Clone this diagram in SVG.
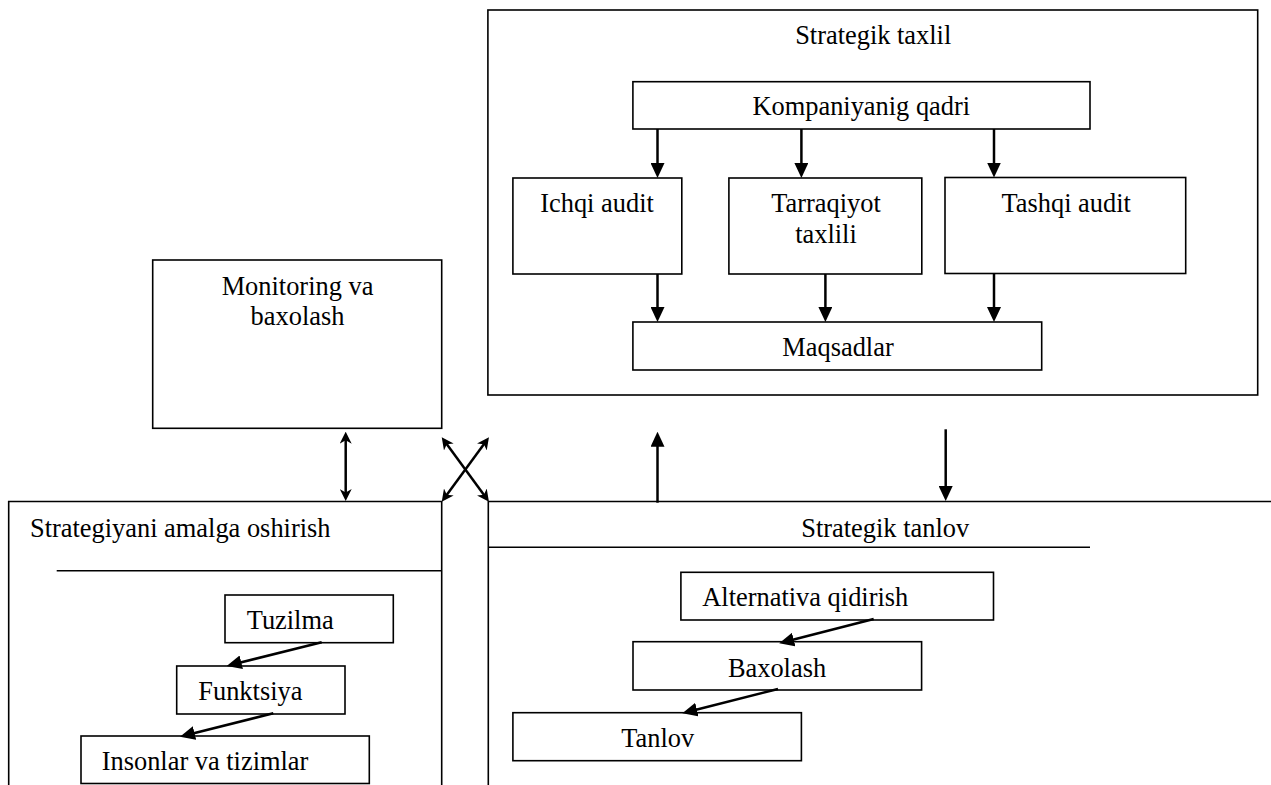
<svg xmlns="http://www.w3.org/2000/svg" width="1271" height="785" viewBox="0 0 1271 785">
<style>
.box{fill:#fff;stroke:#000;stroke-width:1.6}
.ln{fill:none;stroke:#000;stroke-width:1.6}
.t{font-family:"Liberation Serif","Times New Roman",serif;font-size:26.4px;fill:#000}
.m{text-anchor:middle}
.ar{fill:none;stroke:#000;stroke-width:2.5}
</style>
<defs>
<marker id="tri" viewBox="0 0 15 14" refX="9" refY="7" markerWidth="15" markerHeight="14" markerUnits="userSpaceOnUse" orient="auto">
<path d="M0,0 L15,7 L0,14 z" fill="#000"/>
</marker>
<marker id="stl" viewBox="0 0 12 12" refX="8" refY="6" markerWidth="12" markerHeight="12" markerUnits="userSpaceOnUse" orient="auto-start-reverse">
<path d="M0,0 L12,6 L0,12 L3.5,6 z" fill="#000"/>
</marker>
</defs>
<rect width="1271" height="785" fill="#fff"/>

<g id="strategik-taxlil">
<rect class="box" x="487.9" y="10" width="769.8" height="385"/>
<text class="t m" x="873.2" y="44.3">Strategik taxlil</text>
</g>
<g id="kompaniyanig-qadri">
<rect class="box" x="632.9" y="81.7" width="457.1" height="47.3"/>
<text class="t m" x="861.3" y="115">Kompaniyanig qadri</text>
</g>
<g id="ichqi-audit">
<rect class="box" x="512.9" y="178" width="168.9" height="96"/>
<text class="t m" x="597" y="212">Ichqi audit</text>
</g>
<g id="tarraqiyot-taxlili">
<rect class="box" x="728.9" y="178" width="192.9" height="96"/>
<text class="t m" x="826" y="212">Tarraqiyot</text>
<text class="t m" x="826" y="243.3">taxlili</text>
</g>
<g id="tashqi-audit">
<rect class="box" x="945" y="177.5" width="240.7" height="96"/>
<text class="t m" x="1066.2" y="212">Tashqi audit</text>
</g>
<g id="maqsadlar">
<rect class="box" x="632.9" y="322" width="408.8" height="48"/>
<text class="t m" x="838" y="356">Maqsadlar</text>
</g>

<g id="monitoring">
<rect class="box" x="152.7" y="260" width="289" height="168.3"/>
<text class="t m" x="297.5" y="295">Monitoring va</text>
<text class="t m" x="297.5" y="325">baxolash</text>
</g>

<g id="strategiyani-amalga-oshirish">
<path class="ln" d="M8.7,785 V501.5 H441.7 V785"/>
<path class="ln" d="M56.7,570.7 H441.7"/>
<text class="t" x="30" y="536.7">Strategiyani amalga oshirish</text>
</g>
<g id="tuzilma">
<rect class="box" x="225" y="595" width="168.3" height="47.7"/>
<text class="t" x="246.7" y="629">Tuzilma</text>
</g>
<g id="funktsiya">
<rect class="box" x="176.7" y="666" width="168.3" height="48"/>
<text class="t" x="198.3" y="700">Funktsiya</text>
</g>
<g id="insonlar">
<rect class="box" x="81" y="736" width="288.3" height="47.5"/>
<text class="t" x="101.7" y="770">Insonlar va tizimlar</text>
</g>

<g id="strategik-tanlov">
<path class="ln" d="M488.3,785 V501.5 H1271"/>
<path class="ln" d="M488.3,547.2 H1090"/>
<text class="t m" x="885.2" y="536.7">Strategik tanlov</text>
</g>
<g id="alternativa">
<rect class="box" x="680.9" y="572.3" width="312.6" height="47.7"/>
<text class="t" x="702.3" y="606">Alternativa qidirish</text>
</g>
<g id="baxolash">
<rect class="box" x="633" y="641.7" width="288.6" height="48.3"/>
<text class="t m" x="777" y="676.7">Baxolash</text>
</g>
<g id="tanlov">
<rect class="box" x="512.9" y="712.7" width="288.5" height="48"/>
<text class="t m" x="657.7" y="747.3">Tanlov</text>
</g>

<g id="connectors">
<line class="ar" x1="657.5" y1="129" x2="657.5" y2="172" marker-end="url(#tri)"/>
<line class="ar" x1="801.4" y1="129" x2="801.4" y2="172" marker-end="url(#tri)"/>
<line class="ar" x1="994" y1="129" x2="994" y2="171.5" marker-end="url(#tri)"/>
<line class="ar" x1="657.5" y1="274" x2="657.5" y2="316" marker-end="url(#tri)"/>
<line class="ar" x1="825.4" y1="274" x2="825.4" y2="316" marker-end="url(#tri)"/>
<line class="ar" x1="994" y1="273.5" x2="994" y2="316" marker-end="url(#tri)"/>
<line class="ar" x1="657.5" y1="502.7" x2="657.5" y2="437.7" marker-end="url(#tri)"/>
<line class="ar" x1="945.7" y1="429.3" x2="945.7" y2="495" marker-end="url(#tri)"/>
<line class="ar" x1="345.7" y1="435.7" x2="345.7" y2="497" marker-start="url(#stl)" marker-end="url(#stl)"/>
<line class="ar" x1="444.1" y1="440.5" x2="486.6" y2="498.5" marker-start="url(#stl)" marker-end="url(#stl)"/>
<line class="ar" x1="486.6" y1="440.5" x2="444.1" y2="498.5" marker-start="url(#stl)" marker-end="url(#stl)"/>
<line class="ar" x1="321.7" y1="642.3" x2="232.5" y2="664.5" marker-end="url(#tri)"/>
<line class="ar" x1="273.3" y1="713.3" x2="185.8" y2="735.2" marker-end="url(#tri)"/>
<line class="ar" x1="873.7" y1="619" x2="785" y2="641.8" marker-end="url(#tri)"/>
<line class="ar" x1="778" y1="689" x2="688.2" y2="711.8" marker-end="url(#tri)"/>
</g>
</svg>
